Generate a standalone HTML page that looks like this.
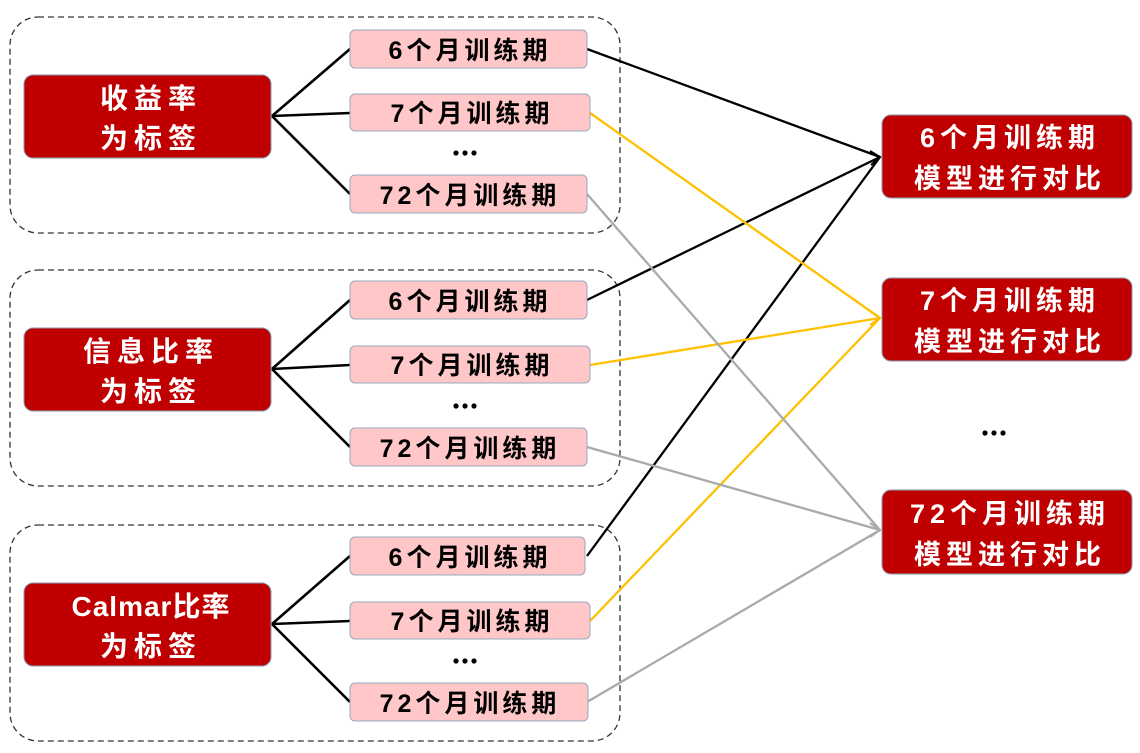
<!DOCTYPE html>
<html><head><meta charset="utf-8"><style>
html,body{margin:0;padding:0;background:#fff}
svg{display:block}
text{font-family:"Liberation Sans","Noto Sans CJK SC","WenQuanYi Zen Hei",sans-serif;font-weight:bold}
</style></head><body>
<svg width="1140" height="753" viewBox="0 0 1140 753" xmlns="http://www.w3.org/2000/svg">
<g fill="none" stroke="#333" stroke-width="1.3" stroke-dasharray="6,4">
<rect x="10" y="17" width="610" height="216" rx="28"/>
<rect x="10" y="270" width="610" height="216" rx="28"/>
<rect x="10" y="525" width="610" height="216" rx="28"/>
</g>
<g stroke="#000" stroke-width="2.6" fill="none">
<path d="M272 116 L350 49 M272 116 L350 113 M272 116 L350 194"/>
<path d="M272 369 L350 300 M272 369 L350 365 M272 369 L350 447"/>
<path d="M272 624 L350 556 M272 624 L350 621 M272 624 L350 702"/>
</g>
<g stroke-width="2.3" fill="none">
<path stroke="#000" d="M587 49 L880 157 M587 300 L880 157 M587 556 L880 157"/>
<path stroke="#ffc000" d="M590 113 L880 318 M590 365 L880 318 M590 621 L880 318"/>
<path stroke="#aaa" d="M587 194 L880 530 M587 447 L880 530 M587 702 L880 530"/>
</g>
<g fill="none" stroke-width="2">
<path stroke="#000" d="M870 151 L880 157 L871 165"/>
<path stroke="#ffc000" d="M870 311 L880 318 L870 325"/>
<path stroke="#aaa" d="M870 523 L880 530 L870 537"/>
</g>
<g fill="#c00000" stroke="#8a9ab0" stroke-width="1">
<rect x="24" y="75" width="247" height="83" rx="9"/>
<rect x="24" y="328" width="247" height="83" rx="9"/>
<rect x="24" y="583" width="247" height="83" rx="9"/>
<rect x="882" y="115" width="250" height="83" rx="9"/>
<rect x="882" y="278" width="250" height="83" rx="9"/>
<rect x="882" y="490" width="250" height="84" rx="9"/>
</g>
<g fill="#fff" font-size="28" text-anchor="middle" letter-spacing="6">
<text x="151" y="108">收益率</text><text x="151" y="148">为标签</text>
<text x="151" y="361">信息比率</text><text x="151" y="401">为标签</text>
<text x="151" y="616" letter-spacing="1">Calmar比率</text><text x="151" y="656">为标签</text>
</g>
<g fill="#fff" font-size="27" text-anchor="middle" letter-spacing="5">
<text x="1010" y="147">6个月训练期</text><text x="1010" y="188">模型进行对比</text>
<text x="1010" y="310">7个月训练期</text><text x="1010" y="351">模型进行对比</text>
<text x="1010" y="523">72个月训练期</text><text x="1010" y="564">模型进行对比</text>
</g>
<g fill="#ffc7c7" stroke="#9aa8c0" stroke-width="1">
<rect x="350" y="30" width="237" height="38" rx="5"/>
<rect x="350" y="94" width="240" height="37" rx="5"/>
<rect x="350" y="175" width="237" height="38" rx="5"/>
<rect x="350" y="281" width="237" height="38" rx="5"/>
<rect x="350" y="346" width="240" height="37" rx="5"/>
<rect x="350" y="428" width="237" height="38" rx="5"/>
<rect x="350" y="537" width="235" height="38" rx="5"/>
<rect x="350" y="602" width="240" height="37" rx="5"/>
<rect x="350" y="683" width="238" height="38" rx="5"/>
</g>
<g fill="#000" font-size="25" text-anchor="middle" letter-spacing="4">
<text x="470" y="59">6个月训练期</text>
<text x="472" y="122">7个月训练期</text>
<text x="470" y="204">72个月训练期</text>
<text x="470" y="310">6个月训练期</text>
<text x="472" y="374">7个月训练期</text>
<text x="470" y="457">72个月训练期</text>
<text x="470" y="566">6个月训练期</text>
<text x="472" y="630">7个月训练期</text>
<text x="470" y="712">72个月训练期</text>
</g>
<g fill="#000">
<circle cx="456" cy="153" r="2.6"/><circle cx="465" cy="153" r="2.6"/><circle cx="474" cy="153" r="2.6"/>
<circle cx="456" cy="406" r="2.6"/><circle cx="465" cy="406" r="2.6"/><circle cx="474" cy="406" r="2.6"/>
<circle cx="456" cy="661" r="2.6"/><circle cx="465" cy="661" r="2.6"/><circle cx="474" cy="661" r="2.6"/>
<circle cx="985" cy="433" r="2.6"/><circle cx="994" cy="433" r="2.6"/><circle cx="1003" cy="433" r="2.6"/>
</g>
</svg>
</body></html>
